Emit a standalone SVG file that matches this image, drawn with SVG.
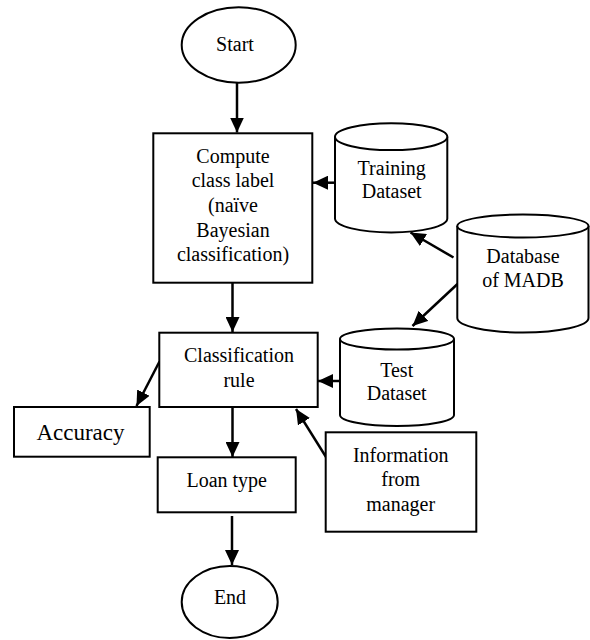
<svg xmlns="http://www.w3.org/2000/svg" width="590" height="640" viewBox="0 0 590 640">
<defs>
<style>
.s{fill:#fff;stroke:#000;stroke-width:2}
.t{font-family:'Liberation Serif','Tinos','Times New Roman','DejaVu Serif',serif;font-size:20px;fill:#000;text-anchor:middle}
.c line{stroke:#000;stroke-width:2.5;marker-end:url(#ah)}
</style>
<marker id="ah" markerUnits="userSpaceOnUse" markerWidth="15" markerHeight="14" refX="15" refY="7" orient="auto" viewBox="0 0 15 14">
<path d="M0,0 L15,7 L0,14 z" fill="#000"/>
</marker>
</defs>
<rect width="590" height="640" fill="#fff"/>
<g class="c" id="connectors">
<line x1="237" y1="83" x2="237" y2="132.5"/>
<line x1="335" y1="182.7" x2="313" y2="182.7"/>
<line x1="453.5" y1="257.5" x2="410.5" y2="232.5"/>
<line x1="457.5" y1="284" x2="412.5" y2="326"/>
<line x1="340" y1="381" x2="318" y2="381"/>
<line x1="232.5" y1="283" x2="232.5" y2="332"/>
<line x1="159.5" y1="361.5" x2="136.5" y2="406"/>
<line x1="232.5" y1="407" x2="232.5" y2="457"/>
<line x1="232" y1="516" x2="232" y2="565"/>
<line x1="326" y1="457" x2="296" y2="409"/>
</g>
<g id="start">
<ellipse class="s" cx="238.7" cy="45" rx="57" ry="37.7"/>
<text class="t" x="235" y="51">Start</text>
</g>
<g id="compute">
<rect class="s" x="153.3" y="133.3" width="159" height="149.4"/>
<text class="t" x="233" y="163.3">Compute</text>
<text class="t" x="233" y="187.3">class label</text>
<text class="t" x="233" y="212">(naïve</text>
<text class="t" x="233" y="236.5">Bayesian</text>
<text class="t" x="233" y="260.7">classification)</text>
</g>
<g id="training">
<path class="s" d="M335,136.7 L335,218.5 A56.15,14 0 0 0 447.3,218.5 L447.3,136.7"/>
<ellipse class="s" cx="391.15" cy="136.7" rx="56.15" ry="13.4"/>
<text class="t" x="391.7" y="175">Training</text>
<text class="t" x="391.7" y="198.3">Dataset</text>
</g>
<g id="database">
<path class="s" d="M457.3,226 L457.3,318 A65.6,14.5 0 0 0 588.5,318 L588.5,226"/>
<ellipse class="s" cx="522.9" cy="226" rx="65.6" ry="11.5"/>
<text class="t" x="523" y="263.3">Database</text>
<text class="t" x="523" y="287.3">of MADB</text>
</g>
<g id="test">
<path class="s" d="M340,339 L340,415 A57,11 0 0 0 454,415 L454,339"/>
<ellipse class="s" cx="397" cy="339" rx="57" ry="10.5"/>
<text class="t" x="396.7" y="376.7">Test</text>
<text class="t" x="396.7" y="400">Dataset</text>
</g>
<g id="classification">
<rect class="s" x="159.3" y="332.7" width="158.4" height="74.3"/>
<text class="t" x="239" y="361.7">Classification</text>
<text class="t" x="239" y="386.7">rule</text>
</g>
<g id="accuracy">
<rect class="s" x="14" y="407" width="135.7" height="49.7"/>
<text class="t" x="80.5" y="440" style="font-size:23px">Accuracy</text>
</g>
<g id="loantype">
<rect class="s" x="157.7" y="457.3" width="138" height="55"/>
<text class="t" x="226.7" y="487.3">Loan type</text>
</g>
<g id="information">
<rect class="s" x="325.7" y="432.3" width="150.6" height="99.4"/>
<text class="t" x="400.7" y="461.7">Information</text>
<text class="t" x="400.7" y="486">from</text>
<text class="t" x="400.7" y="510.5">manager</text>
</g>
<g id="end">
<ellipse class="s" cx="229.7" cy="602" rx="48" ry="36"/>
<text class="t" x="230" y="604">End</text>
</g>
</svg>
